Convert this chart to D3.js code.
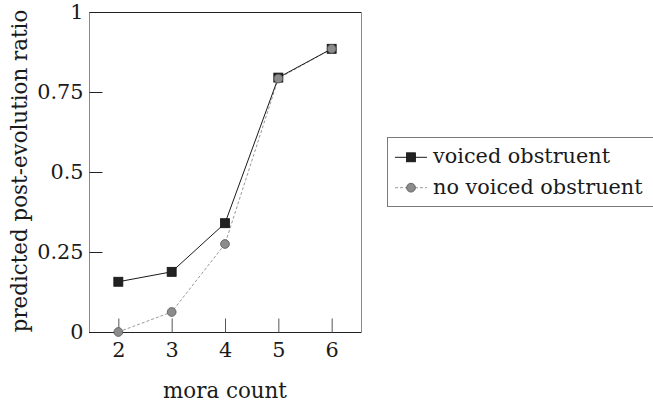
<!DOCTYPE html>
<html>
<head>
<meta charset="utf-8">
<script src="https://cdn.jsdelivr.net/npm/d3@7"></script>
<style>
  html, body { margin: 0; padding: 0; background: #fff; }
  svg { display: block; }
  text { font-family: "DejaVu Serif", serif; fill: #1a1a1a; }
</style>
</head>
<body>
<svg id="chart" width="653" height="403"></svg>
<script>
// mora count on the x axis
const moraCounts = [2, 3, 4, 5, 6];
// predicted post-evolution ratio, by whether the word has a voiced obstruent
const voicedObstruent = [0.157, 0.188, 0.340, 0.795, 0.885];
const noVoicedObstruent = [0.0, 0.0625, 0.275, 0.792, 0.885];

const yTickValues = [0, 0.25, 0.5, 0.75, 1];
const yTickLabels = ["0", "0.25", "0.5", "0.75", "1"];
const seriesNames = ["voiced obstruent", "no voiced obstruent"];

const FONT = 20.8;
const TITLE_FONT = 21.4;
const plot = { left: 89, right: 361, top: 12, bottom: 332 };

const svg = d3.select("#chart");

const x = d3.scaleLinear().domain([1.45, 6.55]).range([plot.left, plot.right]);
const y = d3.scaleLinear().domain([0, 1]).range([plot.bottom, plot.top]);

// frame: black top and bottom, grey sides
const frame = svg.append("g").attr("fill", "none").attr("stroke-width", 1);
frame.append("line").attr("x1", plot.left).attr("x2", plot.right)
  .attr("y1", plot.top + 0.5).attr("y2", plot.top + 0.5).attr("stroke", "#222");
frame.append("line").attr("x1", plot.left).attr("x2", plot.right)
  .attr("y1", plot.bottom + 0.5).attr("y2", plot.bottom + 0.5).attr("stroke", "#222");
frame.append("line").attr("x1", plot.left + 0.5).attr("x2", plot.left + 0.5)
  .attr("y1", plot.top).attr("y2", plot.bottom).attr("stroke", "#8a8a8a");
frame.append("line").attr("x1", plot.right + 0.5).attr("x2", plot.right + 0.5)
  .attr("y1", plot.top).attr("y2", plot.bottom + 1).attr("stroke", "#8a8a8a");

// y axis, ticks pointing inward
const yAxis = svg.append("g")
  .attr("transform", `translate(${plot.left + 0.5},0)`)
  .call(d3.axisLeft(y)
    .tickValues(yTickValues)
    .tickFormat((d, i) => yTickLabels[i])
    .tickSize(-13)
    .tickPadding(6));
yAxis.select(".domain").remove();
yAxis.selectAll("line").attr("stroke", "#222");
yAxis.selectAll("text").attr("font-size", FONT).attr("font-family", "DejaVu Serif").attr("fill", "#1a1a1a");

// x axis, ticks pointing up into the plot
const xAxis = svg.append("g")
  .attr("transform", `translate(0,${plot.bottom + 0.5})`)
  .call(d3.axisBottom(x)
    .tickValues(moraCounts)
    .tickFormat(d3.format("d"))
    .tickSize(-14)
    .tickPadding(10));
xAxis.select(".domain").remove();
xAxis.selectAll("line").attr("stroke", "#555");
xAxis.selectAll("text").attr("font-size", FONT).attr("font-family", "DejaVu Serif").attr("fill", "#1a1a1a");

// axis titles
svg.append("text")
  .attr("x", (plot.left + plot.right) / 2)
  .attr("y", 398)
  .attr("text-anchor", "middle")
  .attr("font-size", TITLE_FONT)
  .text("mora count");

svg.append("text")
  .attr("transform", `translate(27,${(plot.top + plot.bottom) / 2 - 1}) rotate(-90)`)
  .attr("text-anchor", "middle")
  .attr("font-size", TITLE_FONT)
  .text("predicted post-evolution ratio");

// series
const voicedPts = moraCounts.map((m, i) => [m, voicedObstruent[i]]);
const plainPts = moraCounts.map((m, i) => [m, noVoicedObstruent[i]]);
const line = d3.line().x(d => x(d[0])).y(d => y(d[1]));

svg.append("path")
  .attr("d", line(plainPts))
  .attr("fill", "none")
  .attr("stroke", "#9a9a9a")
  .attr("stroke-width", 1)
  .attr("stroke-dasharray", "3,2");

svg.append("path")
  .attr("d", line(voicedPts))
  .attr("fill", "none")
  .attr("stroke", "#1a1a1a")
  .attr("stroke-width", 1);

const SQ = 9;
svg.append("g").selectAll("rect")
  .data(voicedPts)
  .join("rect")
  .attr("x", d => x(d[0]) - SQ / 2)
  .attr("y", d => y(d[1]) - SQ / 2)
  .attr("width", SQ)
  .attr("height", SQ)
  .attr("fill", "#222")
  .attr("stroke", "#111")
  .attr("stroke-width", 0.8);

svg.append("g").selectAll("circle")
  .data(plainPts)
  .join("circle")
  .attr("cx", d => x(d[0]))
  .attr("cy", d => y(d[1]))
  .attr("r", 4.4)
  .attr("fill", "#8c8c8c")
  .attr("stroke", "#555")
  .attr("stroke-width", 0.8);

// legend
const legend = svg.append("g");
legend.append("rect")
  .attr("x", 387.5).attr("y", 137.5)
  .attr("width", 280).attr("height", 69)
  .attr("fill", "#fff")
  .attr("stroke", "#7a7a7a")
  .attr("stroke-width", 1);

const rowY = [157.3, 187.7];
// row 1: solid line with square
legend.append("line")
  .attr("x1", 395).attr("x2", 427).attr("y1", rowY[0]).attr("y2", rowY[0])
  .attr("stroke", "#1a1a1a").attr("stroke-width", 1);
legend.append("rect")
  .attr("x", 411 - SQ / 2).attr("y", rowY[0] - SQ / 2)
  .attr("width", SQ).attr("height", SQ)
  .attr("fill", "#222").attr("stroke", "#111").attr("stroke-width", 0.8);
// row 2: dashed line with circle
legend.append("line")
  .attr("x1", 395).attr("x2", 427).attr("y1", rowY[1]).attr("y2", rowY[1])
  .attr("stroke", "#9a9a9a").attr("stroke-width", 1).attr("stroke-dasharray", "3,2");
legend.append("circle")
  .attr("cx", 411).attr("cy", rowY[1]).attr("r", 4.4)
  .attr("fill", "#8c8c8c").attr("stroke", "#555").attr("stroke-width", 0.8);

legend.selectAll("text.label")
  .data(seriesNames)
  .join("text")
  .attr("class", "label")
  .attr("x", 433)
  .attr("y", (d, i) => rowY[i] + 6)
  .attr("font-size", FONT)
  .text(d => d);
</script>
</body>
</html>
